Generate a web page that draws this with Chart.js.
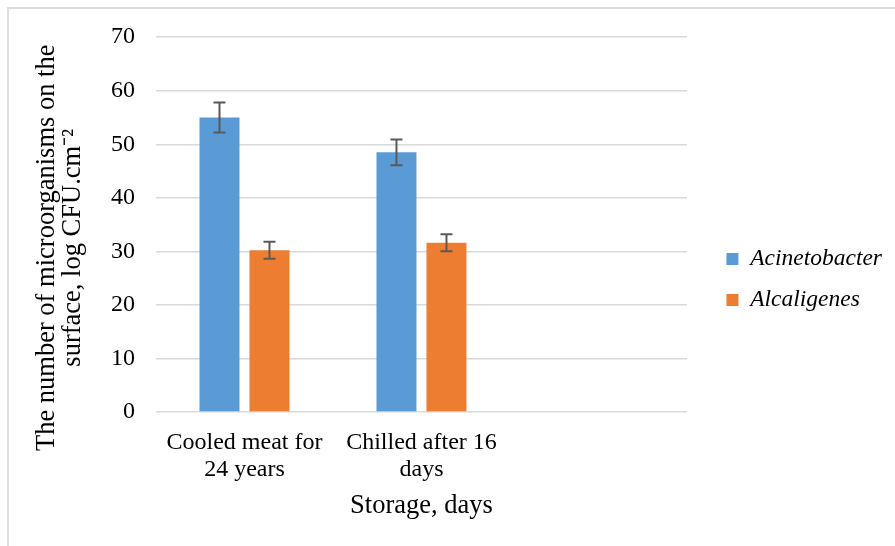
<!DOCTYPE html>
<html>
<head>
<meta charset="utf-8">
<script src="https://cdn.jsdelivr.net/npm/chart.js@4/dist/chart.umd.min.js"></script>
<style>
  html, body { margin: 0; padding: 0; background: #fff; }
  #wrap {
    position: absolute; left: 7px; top: 7px; width: 886px; height: 537px;
    border-left: 2px solid #dcdcdc; border-top: 2px solid #dcdcdc;
  }
</style>
</head>
<body>
<div id="wrap"><canvas id="chart"></canvas></div>
<script>
  // categories (third slot is empty in the original)
  const categories = [['Cooled meat for', '24 years'], ['Chilled after 16', 'days'], ''];

  // series values and error bars
  const acinetobacter    = [55.0, 48.5, null];
  const acinetobacterErr = [2.8, 2.4, null];
  const alcaligenes      = [30.2, 31.6, null];
  const alcaligenesErr   = [1.6, 1.6, null];

  const yTicks = [0, 10, 20, 30, 40, 50, 60, 70];

  const serif = "'Liberation Serif', 'Times New Roman', serif";
  const pad = '\u00a0'.repeat(7);

  // draws the error bars through the y scale
  const errorBars = {
    id: 'errorBars',
    afterDatasetsDraw(chart) {
      const ctx = chart.ctx;
      const y = chart.scales.y;
      chart.data.datasets.forEach((ds, i) => {
        const meta = chart.getDatasetMeta(i);
        meta.data.forEach((bar, j) => {
          const v = ds.data[j], e = ds.errors[j];
          if (v == null || e == null) return;
          const top = y.getPixelForValue(v + e);
          const bot = y.getPixelForValue(v - e);
          ctx.save();
          ctx.strokeStyle = '#595959';
          ctx.lineWidth = 2;
          ctx.beginPath();
          ctx.moveTo(bar.x, top); ctx.lineTo(bar.x, bot);
          ctx.moveTo(bar.x - 6, top); ctx.lineTo(bar.x + 6, top);
          ctx.moveTo(bar.x - 6, bot); ctx.lineTo(bar.x + 6, bot);
          ctx.stroke();
          ctx.restore();
        });
      });
    }
  };

  new Chart(document.getElementById('chart'), {
    type: 'bar',
    data: {
      labels: categories,
      datasets: [{
        label: 'Acinetobacter',
        data: acinetobacter,
        errors: acinetobacterErr,
        backgroundColor: '#5b9bd5',
        categoryPercentage: 0.565,
        barPercentage: 0.8
      }, {
        label: 'Alcaligenes',
        data: alcaligenes,
        errors: alcaligenesErr,
        backgroundColor: '#ed7d31',
        categoryPercentage: 0.565,
        barPercentage: 0.8
      }]
    },
    options: {
      responsive: true,
      maintainAspectRatio: false,
      animation: false,
      layout: { padding: { top: 28, left: 0, right: 3, bottom: 24 } },
      plugins: {
        tooltip: { enabled: false },
        legend: {
          position: 'right',
          maxWidth: 220,
          labels: {
            boxWidth: 12, boxHeight: 12, padding: 17.5,
            color: '#000',
            font: { family: serif, size: 23.5, style: 'italic' }
          }
        }
      },
      scales: {
        x: {
          grid: { display: false },
          border: { display: false },
          ticks: {
            color: '#000', padding: 9, maxRotation: 0,
            font: { family: serif, size: 24, lineHeight: 1.12 }
          },
          title: {
            display: true, text: 'Storage, days', color: '#000',
            font: { family: serif, size: 26.5 }, padding: { top: 0, bottom: 0 }
          },
          afterFit: (s) => { s.height = 110; }
        },
        y: {
          min: 0, max: 70,
          afterBuildTicks: (s) => { s.ticks = yTicks.map(v => ({ value: v })); },
          grid: { color: '#d9d9d9', lineWidth: 1.5, drawTicks: false },
          border: { display: false },
          ticks: {
            color: '#000', padding: 21,
            font: { family: serif, size: 24, lineHeight: 0.6 }
          },
          title: {
            display: true,
            text: ['The number of microorganisms on the' + pad,
                   'surface, log CFU.cm\u207b\u00b2' + pad],
            color: '#000',
            font: { family: serif, size: 26.5, lineHeight: 0.98 },
            padding: { top: 25, bottom: 0 }
          },
          afterFit: (s) => { s.width = 147; }
        },
        // empty spacer axis between the plot and the legend
        gap: {
          type: 'linear', position: 'right', display: true,
          grid: { display: false }, border: { display: false },
          ticks: { display: false },
          afterFit: (s) => { s.width = 22; }
        }
      }
    },
    plugins: [errorBars]
  });
</script>
</body>
</html>
